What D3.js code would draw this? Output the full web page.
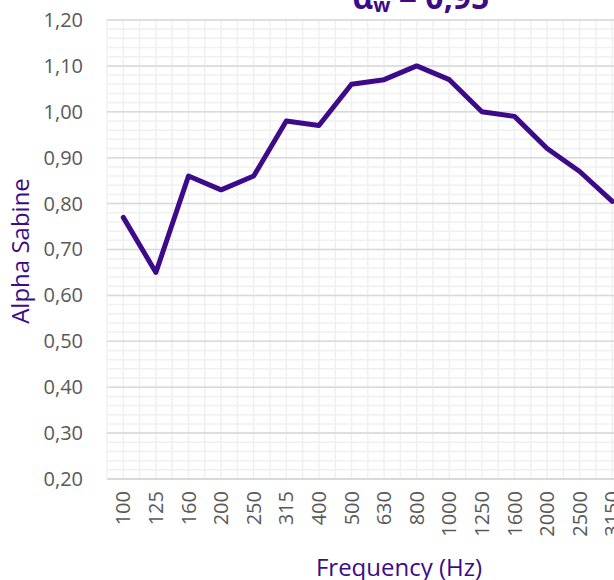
<!DOCTYPE html>
<html>
<head>
<meta charset="utf-8">
<script src="https://cdn.jsdelivr.net/npm/d3@7"></script>
<style>
  body { margin: 0; background: #fff; }
  svg { display: block; font-family: "Open Sans", "Noto Sans", sans-serif; }
</style>
</head>
<body>
<div id="container"></div>
<script>
/* ---------- DATA ---------- */
const frequencies = ["100", "125", "160", "200", "250", "315", "400", "500", "630",
  "800", "1000", "1250", "1600", "2000", "2500", "3150"];
const alphaValues = [0.77, 0.65, 0.86, 0.83, 0.86, 0.98, 0.97, 1.06, 1.07,
  1.10, 1.07, 1.00, 0.99, 0.92, 0.87, 0.805];
const yTicks = [0.2, 0.3, 0.4, 0.5, 0.6, 0.7, 0.8, 0.9, 1.0, 1.1, 1.2];

/* ---------- CONSTANTS ---------- */
const width = 614,
  height = 580,
  margin = { top: 20, left: 107, bottom: 101 },
  step = 32.6,
  purple = "#3d0a8a";

const svg = d3.select("#container")
  .append("svg")
  .attr("width", width)
  .attr("height", height);

// + SCALES
const xScale = d3.scaleBand()
  .domain(frequencies)
  .range([margin.left, margin.left + step * frequencies.length]);

const yScale = d3.scaleLinear()
  .domain([0.2, 1.2])
  .range([height - margin.bottom, margin.top]);

const plotRight = margin.left + step * frequencies.length;

// + GRID
const minorY = d3.range(0.2, 1.2001, 0.02);
svg.append("g")
  .selectAll("line")
  .data(minorY)
  .join("line")
  .attr("x1", margin.left).attr("x2", plotRight)
  .attr("y1", d => yScale(d)).attr("y2", d => yScale(d))
  .attr("stroke", "#f0f0f0")
  .attr("stroke-width", 1.5);

const vLines = [];
frequencies.forEach(f => {
  vLines.push(xScale(f));
  vLines.push(xScale(f) + xScale.bandwidth() / 2);
});
vLines.push(plotRight);
svg.append("g")
  .selectAll("line")
  .data(vLines)
  .join("line")
  .attr("x1", d => d).attr("x2", d => d)
  .attr("y1", yScale(1.2)).attr("y2", yScale(0.2))
  .attr("stroke", "#f0f0f0")
  .attr("stroke-width", 1.5);

svg.append("g")
  .selectAll("line")
  .data(yTicks.slice(1))
  .join("line")
  .attr("x1", margin.left).attr("x2", plotRight)
  .attr("y1", d => yScale(d)).attr("y2", d => yScale(d))
  .attr("stroke", "#d9d9d9")
  .attr("stroke-width", 1.5);

// + AXES
const yAxis = d3.axisLeft(yScale)
  .tickValues(yTicks)
  .tickSize(0)
  .tickPadding(24)
  .tickFormat(d => d3.format(".2f")(d).replace(".", ","));

svg.append("g")
  .attr("transform", `translate(${margin.left},0)`)
  .call(yAxis)
  .call(g => g.select(".domain").remove())
  .call(g => g.selectAll("text")
    .attr("fill", "#595959")
    .style("font-size", "20px")
    .style("font-family", "'Open Sans', sans-serif"));

const xAxis = d3.axisBottom(xScale).tickSize(0).tickPadding(0);
svg.append("g")
  .attr("transform", `translate(0,${yScale(0.2)})`)
  .call(xAxis)
  .call(g => g.select(".domain")
    .attr("d", `M${margin.left},0H${plotRight}`)
    .attr("stroke", "#d9d9d9")
    .attr("stroke-width", 2))
  .call(g => g.selectAll("text")
    .attr("fill", "#595959")
    .attr("transform", "rotate(-90)")
    .attr("x", -12)
    .attr("y", 0)
    .attr("dy", "0.35em")
    .attr("text-anchor", "end")
    .style("font-size", "20px")
    .style("font-family", "'Open Sans', sans-serif"));

// + LINE
const line = d3.line()
  .x((d, i) => xScale(frequencies[i]) + xScale.bandwidth() / 2)
  .y(d => yScale(d));

svg.append("path")
  .datum(alphaValues)
  .attr("d", line)
  .attr("fill", "none")
  .attr("stroke", purple)
  .attr("stroke-width", 5)
  .attr("stroke-linejoin", "round")
  .attr("stroke-linecap", "round");

// + TITLES
svg.append("text")
  .attr("x", 399)
  .attr("y", 576)
  .attr("text-anchor", "middle")
  .attr("fill", purple)
  .style("font-size", "24px")
  .text("Frequency (Hz)");

svg.append("text")
  .attr("transform", "translate(29,251) rotate(-90)")
  .attr("text-anchor", "middle")
  .attr("fill", purple)
  .style("font-size", "24px")
  .text("Alpha Sabine");

const title = svg.append("text")
  .attr("x", 421)
  .attr("y", 9)
  .attr("text-anchor", "middle")
  .attr("fill", purple)
  .style("font-size", "32px")
  .style("font-weight", "bold");
title.append("tspan").text("α");
title.append("tspan").attr("dy", 3).style("font-size", "20px").text("w");
title.append("tspan").attr("dy", -3).text(" = 0,95");
</script>
</body>
</html>
